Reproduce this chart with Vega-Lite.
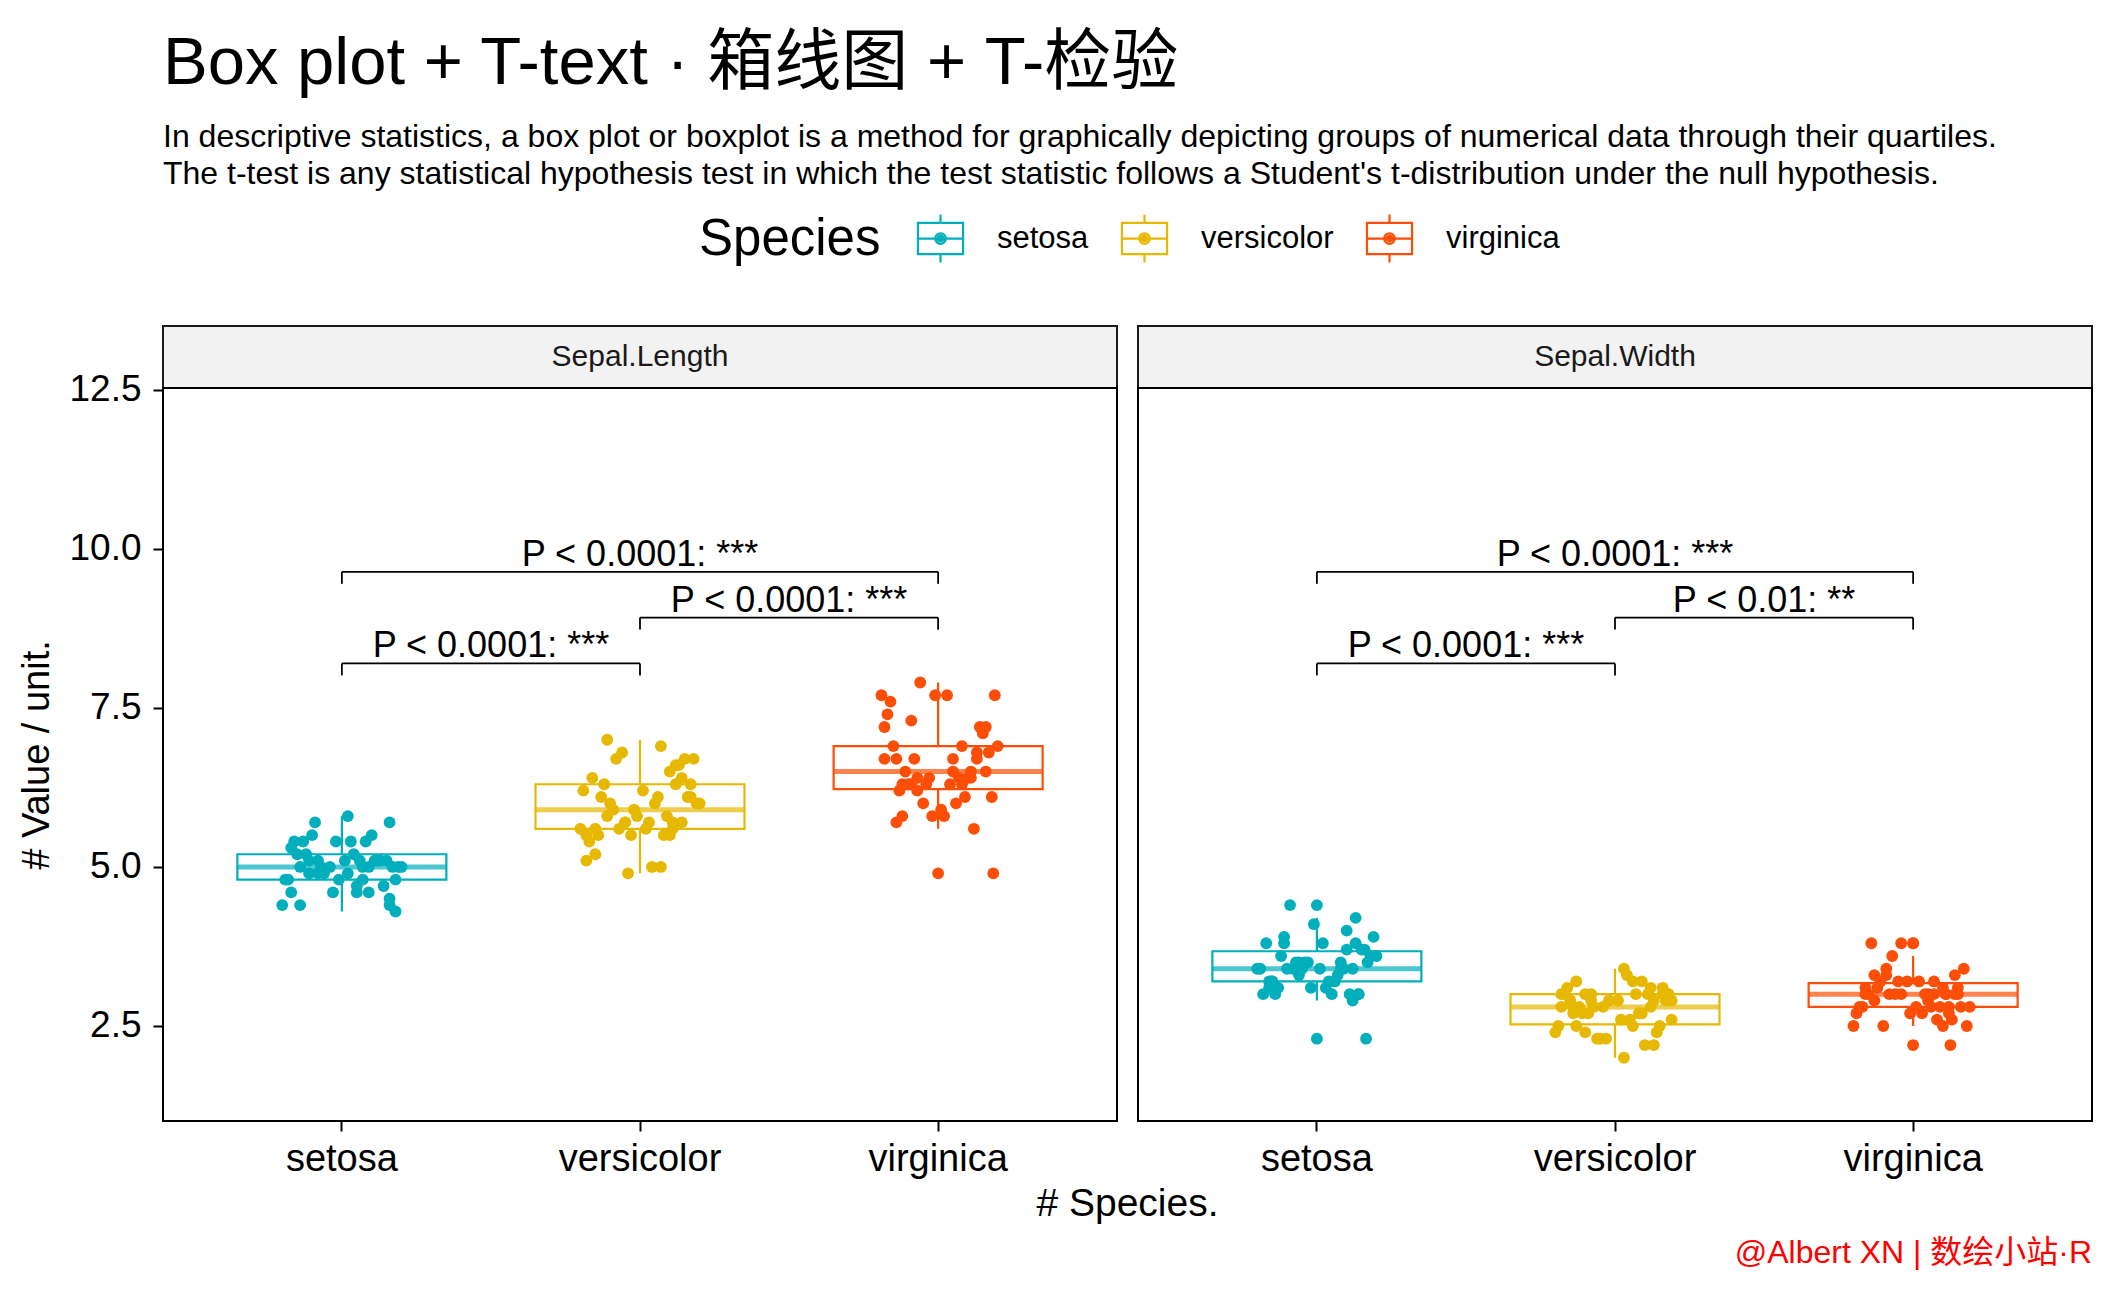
{
  "$schema": "https://vega.github.io/schema/vega-lite/v6.json",
  "background": "white",
  "padding": {"left": 17, "top": 30, "right": 23, "bottom": 20},
  "title": {
    "text": "Box plot + T-text · 箱线图 + T-检验",
    "subtitle": ["In descriptive statistics, a box plot or boxplot is a method for graphically depicting groups of numerical data through their quartiles.", "The t-test is any statistical hypothesis test in which the test statistic follows a Student's t-distribution under the null hypothesis."],
    "anchor": "start", "frame": "group",
    "font": "Liberation Sans, Noto Sans CJK SC", "fontSize": 67, "fontWeight": "normal", "color": "black",
    "subtitleFont": "Liberation Sans", "subtitleFontSize": 32, "subtitleColor": "black", "subtitleLineHeight": 37, "subtitlePadding": 24,
    "offset": 22
  },
  "datasets": {
    "iris": [
      {"species":"setosa","sl":5.1,"sw":3.5,"jl":0.13,"jw":-0.06},
      {"species":"setosa","sl":4.9,"sw":3.0,"jl":-0.08,"jw":0.14},
      {"species":"setosa","sl":4.7,"sw":3.2,"jl":0.05,"jw":-0.15},
      {"species":"setosa","sl":4.6,"sw":3.1,"jl":-0.17,"jw":0.03},
      {"species":"setosa","sl":5.0,"sw":3.6,"jl":0.19,"jw":0.18},
      {"species":"setosa","sl":5.4,"sw":3.9,"jl":-0.02,"jw":-0.11},
      {"species":"setosa","sl":4.6,"sw":3.4,"jl":0.09,"jw":0.08},
      {"species":"setosa","sl":5.0,"sw":3.4,"jl":-0.14,"jw":-0.19},
      {"species":"setosa","sl":4.4,"sw":2.9,"jl":0.16,"jw":0.12},
      {"species":"setosa","sl":4.9,"sw":3.1,"jl":-0.11,"jw":-0.02},
      {"species":"setosa","sl":5.4,"sw":3.7,"jl":0.03,"jw":0.16},
      {"species":"setosa","sl":4.8,"sw":3.4,"jl":-0.19,"jw":-0.08},
      {"species":"setosa","sl":4.8,"sw":3.0,"jl":0.07,"jw":0.05},
      {"species":"setosa","sl":4.3,"sw":3.0,"jl":0.18,"jw":-0.14},
      {"species":"setosa","sl":5.8,"sw":4.0,"jl":0.02,"jw":0.1},
      {"species":"setosa","sl":5.7,"sw":4.4,"jl":0.16,"jw":-0.09},
      {"species":"setosa","sl":5.4,"sw":3.9,"jl":-0.13,"jw":0.19},
      {"species":"setosa","sl":5.1,"sw":3.5,"jl":0.01,"jw":-0.04},
      {"species":"setosa","sl":5.7,"sw":3.8,"jl":-0.09,"jw":0.13},
      {"species":"setosa","sl":5.1,"sw":3.8,"jl":0.15,"jw":-0.17},
      {"species":"setosa","sl":5.4,"sw":3.4,"jl":-0.16,"jw":0.01},
      {"species":"setosa","sl":5.1,"sw":3.7,"jl":0.06,"jw":0.15},
      {"species":"setosa","sl":4.6,"sw":3.6,"jl":-0.03,"jw":-0.12},
      {"species":"setosa","sl":5.1,"sw":3.3,"jl":0.11,"jw":0.07},
      {"species":"setosa","sl":4.8,"sw":3.4,"jl":-0.18,"jw":-0.2},
      {"species":"setosa","sl":5.0,"sw":3.0,"jl":0.17,"jw":0.11},
      {"species":"setosa","sl":5.0,"sw":3.4,"jl":-0.07,"jw":-0.05},
      {"species":"setosa","sl":5.2,"sw":3.5,"jl":0.04,"jw":0.17},
      {"species":"setosa","sl":5.2,"sw":3.4,"jl":-0.12,"jw":-0.1},
      {"species":"setosa","sl":4.7,"sw":3.2,"jl":0.14,"jw":0.04},
      {"species":"setosa","sl":4.8,"sw":3.1,"jl":-0.01,"jw":-0.16},
      {"species":"setosa","sl":5.4,"sw":3.4,"jl":0.08,"jw":0.09},
      {"species":"setosa","sl":5.2,"sw":4.1,"jl":-0.15,"jw":-0.01},
      {"species":"setosa","sl":5.5,"sw":4.2,"jl":0.1,"jw":0.13},
      {"species":"setosa","sl":4.9,"sw":3.1,"jl":-0.06,"jw":-0.13},
      {"species":"setosa","sl":5.0,"sw":3.2,"jl":0.2,"jw":0.06},
      {"species":"setosa","sl":5.5,"sw":3.5,"jl":-0.1,"jw":-0.07},
      {"species":"setosa","sl":4.9,"sw":3.6,"jl":0.02,"jw":0.2},
      {"species":"setosa","sl":4.4,"sw":3.0,"jl":-0.2,"jw":-0.18},
      {"species":"setosa","sl":5.1,"sw":3.4,"jl":0.12,"jw":0.12},
      {"species":"setosa","sl":5.0,"sw":3.5,"jl":-0.04,"jw":-0.03},
      {"species":"setosa","sl":4.5,"sw":2.3,"jl":0.16,"jw":0.165},
      {"species":"setosa","sl":4.4,"sw":3.2,"jl":-0.14,"jw":-0.15},
      {"species":"setosa","sl":5.0,"sw":3.5,"jl":0.07,"jw":0.08},
      {"species":"setosa","sl":5.1,"sw":3.8,"jl":-0.11,"jw":-0.11},
      {"species":"setosa","sl":4.8,"sw":3.0,"jl":0.18,"jw":0.14},
      {"species":"setosa","sl":5.1,"sw":3.8,"jl":-0.08,"jw":0.02},
      {"species":"setosa","sl":4.6,"sw":3.2,"jl":0.05,"jw":-0.16},
      {"species":"setosa","sl":5.3,"sw":3.7,"jl":-0.17,"jw":0.1},
      {"species":"setosa","sl":5.0,"sw":3.3,"jl":0.09,"jw":-0.06},
      {"species":"versicolor","sl":7.0,"sw":3.2,"jl":-0.11,"jw":0.09},
      {"species":"versicolor","sl":6.4,"sw":3.2,"jl":0.14,"jw":-0.13},
      {"species":"versicolor","sl":6.9,"sw":3.1,"jl":0.07,"jw":0.16},
      {"species":"versicolor","sl":5.5,"sw":2.3,"jl":-0.18,"jw":-0.05},
      {"species":"versicolor","sl":6.5,"sw":2.8,"jl":0.1,"jw":0.12},
      {"species":"versicolor","sl":5.7,"sw":2.8,"jl":-0.05,"jw":-0.18},
      {"species":"versicolor","sl":6.3,"sw":3.3,"jl":0.17,"jw":0.04},
      {"species":"versicolor","sl":4.9,"sw":2.4,"jl":-0.04,"jw":-0.1},
      {"species":"versicolor","sl":6.6,"sw":2.9,"jl":0.12,"jw":0.19},
      {"species":"versicolor","sl":5.2,"sw":2.7,"jl":-0.15,"jw":-0.14},
      {"species":"versicolor","sl":5.0,"sw":2.0,"jl":0.04,"jw":0.03},
      {"species":"versicolor","sl":5.9,"sw":3.0,"jl":-0.09,"jw":-0.08},
      {"species":"versicolor","sl":6.0,"sw":2.2,"jl":0.19,"jw":0.13},
      {"species":"versicolor","sl":6.1,"sw":2.9,"jl":-0.13,"jw":-0.02},
      {"species":"versicolor","sl":5.6,"sw":2.9,"jl":0.02,"jw":0.17},
      {"species":"versicolor","sl":6.7,"sw":3.1,"jl":0.15,"jw":-0.16},
      {"species":"versicolor","sl":5.6,"sw":3.0,"jl":-0.07,"jw":0.07},
      {"species":"versicolor","sl":5.8,"sw":2.7,"jl":0.09,"jw":-0.11},
      {"species":"versicolor","sl":6.2,"sw":2.2,"jl":-0.19,"jw":0.1},
      {"species":"versicolor","sl":5.6,"sw":2.5,"jl":0.11,"jw":-0.19},
      {"species":"versicolor","sl":5.9,"sw":3.2,"jl":-0.02,"jw":0.06},
      {"species":"versicolor","sl":6.1,"sw":2.8,"jl":0.16,"jw":-0.04},
      {"species":"versicolor","sl":6.3,"sw":2.5,"jl":-0.12,"jw":0.15},
      {"species":"versicolor","sl":6.1,"sw":2.8,"jl":0.06,"jw":-0.12},
      {"species":"versicolor","sl":6.4,"sw":2.9,"jl":-0.16,"jw":0.01},
      {"species":"versicolor","sl":6.6,"sw":3.0,"jl":0.13,"jw":0.18},
      {"species":"versicolor","sl":6.8,"sw":2.8,"jl":-0.06,"jw":-0.07},
      {"species":"versicolor","sl":6.7,"sw":3.0,"jl":0.18,"jw":0.11},
      {"species":"versicolor","sl":6.0,"sw":2.9,"jl":-0.1,"jw":-0.15},
      {"species":"versicolor","sl":5.7,"sw":2.6,"jl":0.03,"jw":0.05},
      {"species":"versicolor","sl":5.5,"sw":2.4,"jl":-0.14,"jw":-0.2},
      {"species":"versicolor","sl":5.5,"sw":2.4,"jl":0.08,"jw":0.14},
      {"species":"versicolor","sl":5.8,"sw":2.7,"jl":-0.01,"jw":-0.09},
      {"species":"versicolor","sl":6.0,"sw":2.7,"jl":0.2,"jw":0.08},
      {"species":"versicolor","sl":5.4,"sw":3.0,"jl":-0.17,"jw":-0.17},
      {"species":"versicolor","sl":6.0,"sw":3.4,"jl":0.05,"jw":0.03},
      {"species":"versicolor","sl":6.7,"sw":3.1,"jl":-0.08,"jw":0.12},
      {"species":"versicolor","sl":6.3,"sw":2.3,"jl":0.12,"jw":-0.06},
      {"species":"versicolor","sl":5.6,"sw":3.0,"jl":-0.2,"jw":0.16},
      {"species":"versicolor","sl":5.5,"sw":2.5,"jl":0.1,"jw":-0.13},
      {"species":"versicolor","sl":5.5,"sw":2.6,"jl":-0.03,"jw":0.02},
      {"species":"versicolor","sl":6.1,"sw":3.0,"jl":0.17,"jw":-0.1},
      {"species":"versicolor","sl":5.8,"sw":2.6,"jl":-0.11,"jw":0.19},
      {"species":"versicolor","sl":5.0,"sw":2.3,"jl":0.07,"jw":-0.03},
      {"species":"versicolor","sl":5.6,"sw":2.7,"jl":-0.15,"jw":0.09},
      {"species":"versicolor","sl":5.7,"sw":3.0,"jl":0.14,"jw":-0.18},
      {"species":"versicolor","sl":5.7,"sw":2.9,"jl":-0.05,"jw":0.13},
      {"species":"versicolor","sl":6.2,"sw":2.9,"jl":0.01,"jw":-0.08},
      {"species":"versicolor","sl":5.1,"sw":2.5,"jl":-0.18,"jw":0.06},
      {"species":"versicolor","sl":5.7,"sw":2.8,"jl":0.11,"jw":-0.14},
      {"species":"virginica","sl":6.3,"sw":3.3,"jl":0.08,"jw":-0.09},
      {"species":"virginica","sl":5.8,"sw":2.7,"jl":-0.12,"jw":0.12},
      {"species":"virginica","sl":7.1,"sw":3.0,"jl":0.15,"jw":-0.16},
      {"species":"virginica","sl":6.3,"sw":2.9,"jl":-0.04,"jw":0.05},
      {"species":"virginica","sl":6.5,"sw":3.0,"jl":0.11,"jw":0.15},
      {"species":"virginica","sl":7.6,"sw":3.0,"jl":-0.16,"jw":-0.04},
      {"species":"virginica","sl":4.9,"sw":2.5,"jl":0.185,"jw":0.1},
      {"species":"virginica","sl":7.3,"sw":2.9,"jl":-0.09,"jw":-0.13},
      {"species":"virginica","sl":6.7,"sw":2.5,"jl":0.13,"jw":0.18},
      {"species":"virginica","sl":7.2,"sw":3.6,"jl":-0.18,"jw":-0.07},
      {"species":"virginica","sl":6.5,"sw":3.2,"jl":0.05,"jw":0.02},
      {"species":"virginica","sl":6.4,"sw":2.7,"jl":-0.07,"jw":-0.19},
      {"species":"virginica","sl":6.8,"sw":3.0,"jl":0.17,"jw":0.11},
      {"species":"virginica","sl":5.7,"sw":2.5,"jl":-0.14,"jw":-0.1},
      {"species":"virginica","sl":5.8,"sw":2.8,"jl":0.02,"jw":0.16},
      {"species":"virginica","sl":6.4,"sw":3.2,"jl":0.1,"jw":-0.02},
      {"species":"virginica","sl":6.5,"sw":3.0,"jl":-0.11,"jw":0.07},
      {"species":"virginica","sl":7.7,"sw":3.8,"jl":0.19,"jw":-0.14},
      {"species":"virginica","sl":7.7,"sw":2.6,"jl":-0.01,"jw":0.13},
      {"species":"virginica","sl":6.0,"sw":2.2,"jl":0.06,"jw":0.125},
      {"species":"virginica","sl":6.9,"sw":3.2,"jl":-0.15,"jw":-0.05},
      {"species":"virginica","sl":5.6,"sw":2.8,"jl":0.12,"jw":0.09},
      {"species":"virginica","sl":7.7,"sw":2.8,"jl":-0.19,"jw":-0.17},
      {"species":"virginica","sl":6.3,"sw":2.7,"jl":0.04,"jw":0.03},
      {"species":"virginica","sl":6.7,"sw":3.3,"jl":-0.08,"jw":0.14},
      {"species":"virginica","sl":7.2,"sw":3.2,"jl":0.16,"jw":-0.11},
      {"species":"virginica","sl":6.2,"sw":2.8,"jl":-0.13,"jw":0.06},
      {"species":"virginica","sl":6.1,"sw":3.0,"jl":0.09,"jw":-0.08},
      {"species":"virginica","sl":6.4,"sw":2.8,"jl":-0.03,"jw":0.19},
      {"species":"virginica","sl":7.2,"sw":3.0,"jl":0.14,"jw":-0.15},
      {"species":"virginica","sl":7.4,"sw":2.8,"jl":-0.17,"jw":0.01},
      {"species":"virginica","sl":7.9,"sw":3.8,"jl":-0.06,"jw":-0.04},
      {"species":"virginica","sl":6.4,"sw":2.8,"jl":0.07,"jw":0.12},
      {"species":"virginica","sl":6.3,"sw":2.8,"jl":-0.1,"jw":-0.18},
      {"species":"virginica","sl":6.1,"sw":2.6,"jl":0.18,"jw":0.08},
      {"species":"virginica","sl":7.7,"sw":3.0,"jl":0.03,"jw":-0.06},
      {"species":"virginica","sl":6.3,"sw":3.4,"jl":-0.12,"jw":0.17},
      {"species":"virginica","sl":6.4,"sw":3.1,"jl":0.11,"jw":-0.12},
      {"species":"virginica","sl":6.0,"sw":3.0,"jl":-0.05,"jw":0.04},
      {"species":"virginica","sl":6.9,"sw":3.1,"jl":0.2,"jw":0.1},
      {"species":"virginica","sl":6.7,"sw":3.1,"jl":-0.14,"jw":-0.16},
      {"species":"virginica","sl":6.9,"sw":3.1,"jl":0.08,"jw":0.15},
      {"species":"virginica","sl":5.8,"sw":2.7,"jl":-0.02,"jw":-0.01},
      {"species":"virginica","sl":6.8,"sw":3.2,"jl":0.13,"jw":0.07},
      {"species":"virginica","sl":6.7,"sw":3.3,"jl":-0.18,"jw":-0.13},
      {"species":"virginica","sl":6.7,"sw":3.0,"jl":0.05,"jw":0.11},
      {"species":"virginica","sl":6.3,"sw":2.5,"jl":-0.09,"jw":-0.2},
      {"species":"virginica","sl":6.5,"sw":3.0,"jl":0.16,"jw":0.05},
      {"species":"virginica","sl":6.2,"sw":3.4,"jl":-0.07,"jw":-0.09},
      {"species":"virginica","sl":5.9,"sw":3.0,"jl":0.01,"jw":0.14}
    ],
    "brackets": [
      {"panel":"Sepal.Length","g1":"setosa","g2":"versicolor","by":8.2,"label":"P < 0.0001: ***"},
      {"panel":"Sepal.Length","g1":"versicolor","g2":"virginica","by":8.92,"label":"P < 0.0001: ***"},
      {"panel":"Sepal.Length","g1":"setosa","g2":"virginica","by":9.64,"label":"P < 0.0001: ***"},
      {"panel":"Sepal.Width","g1":"setosa","g2":"versicolor","by":8.2,"label":"P < 0.0001: ***"},
      {"panel":"Sepal.Width","g1":"versicolor","g2":"virginica","by":8.92,"label":"P < 0.01: **"},
      {"panel":"Sepal.Width","g1":"setosa","g2":"virginica","by":9.64,"label":"P < 0.0001: ***"}
    ]
  },
  "columns": 2,
  "bounds": "flush",
  "spacing": {"row": 0, "column": 21},
  "resolve": {"scale": {"x": "independent", "y": "independent", "fill": "shared", "stroke": "shared"}},
  "concat": [
    {
      "width": 954, "height": 62,
      "view": {"fill": "#F2F2F2", "stroke": "#1A1A1A", "strokeWidth": 2},
      "data": {"values": [{"panel": "Sepal.Length"}]},
      "mark": {"type": "text", "fontSize": 30, "font": "Liberation Sans", "color": "#1A1A1A"},
      "encoding": {
        "x": {"field": "panel", "type": "nominal", "axis": null},
        "y": {"field": "panel", "type": "nominal", "axis": null},
        "text": {"field": "panel"}
      }
    },
    {
      "width": 954, "height": 62,
      "view": {"fill": "#F2F2F2", "stroke": "#1A1A1A", "strokeWidth": 2},
      "data": {"values": [{"panel": "Sepal.Width"}]},
      "mark": {"type": "text", "fontSize": 30, "font": "Liberation Sans", "color": "#1A1A1A"},
      "encoding": {
        "x": {"field": "panel", "type": "nominal", "axis": null},
        "y": {"field": "panel", "type": "nominal", "axis": null},
        "text": {"field": "panel"}
      }
    },
    {
      "width": 954, "height": 733,
      "layer": [
        {
          "data": {"name": "iris"},
          "transform": [
            {"joinaggregate": [{"op": "q1", "field": "sl", "as": "lq"}, {"op": "q3", "field": "sl", "as": "uq"}, {"op": "median", "field": "sl", "as": "md"}], "groupby": ["species"]},
            {"filter": "datum.sl >= datum.lq - 1.5 * (datum.uq - datum.lq) && datum.sl <= datum.uq + 1.5 * (datum.uq - datum.lq)"},
            {"aggregate": [{"op": "min", "field": "sl", "as": "lw"}, {"op": "max", "field": "sl", "as": "uw"}, {"op": "min", "field": "lq", "as": "q1"}, {"op": "min", "field": "uq", "as": "q3"}, {"op": "min", "field": "md", "as": "med"}], "groupby": ["species"]}
          ],
          "layer": [
            {
              "mark": {"type": "rule", "strokeWidth": 2.2},
              "encoding": {
                "x": {"field": "species", "type": "nominal",
                  "scale": {"domain": ["setosa","versicolor","virginica"], "paddingInner": 0, "paddingOuter": 0.1},
                  "axis": {"title": "# Species.", "titleX": 964, "titleAlign": "center", "titleFontSize": 39, "titlePadding": 6, "labelFontSize": 38, "labelPadding": 9, "labelAngle": 0}},
                "y": {"field": "lw", "type": "quantitative",
                  "scale": {"domain": [1.006, 12.53], "nice": false, "zero": false},
                  "axis": {"title": "# Value / unit.", "values": [2.5, 5, 7.5, 10, 12.5], "format": ".1f", "labelFontSize": 37, "labelPadding": 12, "titleFontSize": 38, "titlePadding": 12}},
                "y2": {"field": "q1"},
                "stroke": {"field": "species", "type": "nominal",
                  "scale": {"domain": ["setosa","versicolor","virginica"], "range": ["#00AFBB","#E7B800","#FC4E07"]},
                  "legend": {"title": "Species", "orient": "none", "legendX": 536, "legendY": -113, "direction": "horizontal", "titleOrient": "left", "titleLimit": 400,
                    "symbolType": "M-0.94,-0.65H0.94V0.65H-0.94ZM-0.94,0H0.94M0,-0.65V-1M0,0.65V1M0.22,0A0.22,0.22 0 1,1 -0.22,0A0.22,0.22 0 1,1 0.22,0M0.12,0A0.12,0.12 0 1,1 -0.12,0A0.12,0.12 0 1,1 0.12,0M0.04,0A0.04,0.04 0 1,1 -0.04,0A0.04,0.04 0 1,1 0.04,0",
                    "symbolSize": 2304, "symbolStrokeWidth": 2.2, "symbolOpacity": 1, "symbolFillColor": "transparent", "labelFontSize": 31, "titleFontSize": 51, "titleFontWeight": "normal",
                    "labelOffset": 31, "columnPadding": 28, "titlePadding": 34, "padding": 0, "titleBaseline": "middle", "titleAnchor": "middle",
                    "labelColor": "black", "titleColor": "black", "labelFont": "Liberation Sans", "titleFont": "Liberation Sans",
                    "encode": {"symbols": {"update": {"fill": {"value": "transparent"}, "strokeWidth": {"value": 2.2}}}}}}
              }
            },
            {
              "mark": {"type": "rule", "strokeWidth": 2.2},
              "encoding": {
                "x": {"field": "species", "type": "nominal"},
                "y": {"field": "q3", "type": "quantitative"},
                "y2": {"field": "uw"},
                "stroke": {"field": "species", "type": "nominal"}
              }
            },
            {
              "mark": {"type": "bar", "filled": false, "fill": "transparent", "strokeWidth": 2.2, "size": 209},
              "encoding": {
                "x": {"field": "species", "type": "nominal"},
                "y": {"field": "q1", "type": "quantitative"},
                "y2": {"field": "q3"},
                "stroke": {"field": "species", "type": "nominal"}
              }
            },
            {
              "mark": {"type": "tick", "thickness": 5, "size": 209},
              "encoding": {
                "x": {"field": "species", "type": "nominal"},
                "y": {"field": "med", "type": "quantitative"},
                "fill": {"field": "species", "type": "nominal",
                  "scale": {"domain": ["virginica","versicolor","setosa"], "range": ["#FC4E07","#E7B800","#00AFBB"]},
                  "legend": null}
              }
            }
          ]
        },
        {
          "data": {"name": "iris"},
          "transform": [
            {"joinaggregate": [{"op": "q1", "field": "sl", "as": "lq"}, {"op": "q3", "field": "sl", "as": "uq"}], "groupby": ["species"]},
            {"filter": "datum.sl < datum.lq - 1.5 * (datum.uq - datum.lq) || datum.sl > datum.uq + 1.5 * (datum.uq - datum.lq)"}
          ],
          "mark": {"type": "circle", "size": 140, "opacity": 1},
          "encoding": {
            "x": {"field": "species", "type": "nominal"},
            "y": {"field": "sl", "type": "quantitative"},
            "fill": {"field": "species", "type": "nominal", "legend": null}
          }
        },
        {
          "data": {"name": "iris"},
          "mark": {"type": "circle", "size": 140, "opacity": 1},
          "encoding": {
            "x": {"field": "species", "type": "nominal"},
            "xOffset": {"field": "jl", "type": "quantitative", "scale": {"domain": [-0.5, 0.5]}},
            "y": {"field": "sl", "type": "quantitative"},
            "fill": {"field": "species", "type": "nominal", "legend": null}
          }
        },
        {
          "data": {"name": "brackets"},
          "transform": [{"filter": "datum.panel === 'Sepal.Length'"}],
          "mark": {"type": "rule", "color": "black", "strokeWidth": 1.8},
          "encoding": {
            "x": {"field": "g1", "type": "nominal"},
            "x2": {"field": "g2"},
            "y": {"field": "by", "type": "quantitative"}
          }
        },
        {
          "data": {"name": "brackets"},
          "transform": [{"filter": "datum.panel === 'Sepal.Length'"}],
          "mark": {"type": "rule", "color": "black", "strokeWidth": 1.8, "y2Offset": 12},
          "encoding": {
            "x": {"field": "g1", "type": "nominal"},
            "y": {"field": "by", "type": "quantitative"},
            "y2": {"field": "by"}
          }
        },
        {
          "data": {"name": "brackets"},
          "transform": [{"filter": "datum.panel === 'Sepal.Length'"}],
          "mark": {"type": "rule", "color": "black", "strokeWidth": 1.8, "y2Offset": 12},
          "encoding": {
            "x": {"field": "g2", "type": "nominal"},
            "y": {"field": "by", "type": "quantitative"},
            "y2": {"field": "by"}
          }
        },
        {
          "data": {"name": "brackets"},
          "transform": [
            {"filter": "datum.panel === 'Sepal.Length'"},
            {"calculate": "(indexof(['setosa','versicolor','virginica'], datum.g2) - indexof(['setosa','versicolor','virginica'], datum.g1)) / 2", "as": "mid"}
          ],
          "mark": {"type": "text", "fontSize": 36, "font": "Liberation Sans", "color": "black", "baseline": "alphabetic", "dy": -6},
          "encoding": {
            "x": {"field": "g1", "type": "nominal"},
            "xOffset": {"field": "mid", "type": "quantitative"},
            "y": {"field": "by", "type": "quantitative"},
            "text": {"field": "label"}
          }
        }
      ]
    },
    {
      "width": 954, "height": 733,
      "title": {"text": "@Albert XN | 数绘小站·R", "orient": "bottom", "anchor": "end", "frame": "group", "fontSize": 32, "fontWeight": "normal", "color": "#FF0000", "font": "Liberation Sans, Noto Sans CJK SC", "offset": 60},
      "layer": [
        {
          "data": {"name": "iris"},
          "transform": [
            {"joinaggregate": [{"op": "q1", "field": "sw", "as": "lq"}, {"op": "q3", "field": "sw", "as": "uq"}, {"op": "median", "field": "sw", "as": "md"}], "groupby": ["species"]},
            {"filter": "datum.sw >= datum.lq - 1.5 * (datum.uq - datum.lq) && datum.sw <= datum.uq + 1.5 * (datum.uq - datum.lq)"},
            {"aggregate": [{"op": "min", "field": "sw", "as": "lw"}, {"op": "max", "field": "sw", "as": "uw"}, {"op": "min", "field": "lq", "as": "q1"}, {"op": "min", "field": "uq", "as": "q3"}, {"op": "min", "field": "md", "as": "med"}], "groupby": ["species"]}
          ],
          "layer": [
            {
              "mark": {"type": "rule", "strokeWidth": 2.2},
              "encoding": {
                "x": {"field": "species", "type": "nominal",
                  "scale": {"domain": ["setosa","versicolor","virginica"], "paddingInner": 0, "paddingOuter": 0.1},
                  "axis": {"title": null, "labelFontSize": 38, "labelPadding": 9, "labelAngle": 0}},
                "y": {"field": "lw", "type": "quantitative",
                  "scale": {"domain": [1.006, 12.53], "nice": false, "zero": false},
                  "axis": null},
                "y2": {"field": "q1"},
                "stroke": {"field": "species", "type": "nominal",
                  "legend": {"title": "Species", "orient": "none", "legendX": 536, "legendY": -113, "direction": "horizontal", "titleOrient": "left", "titleLimit": 400,
                    "symbolType": "M-0.94,-0.65H0.94V0.65H-0.94ZM-0.94,0H0.94M0,-0.65V-1M0,0.65V1M0.22,0A0.22,0.22 0 1,1 -0.22,0A0.22,0.22 0 1,1 0.22,0M0.12,0A0.12,0.12 0 1,1 -0.12,0A0.12,0.12 0 1,1 0.12,0M0.04,0A0.04,0.04 0 1,1 -0.04,0A0.04,0.04 0 1,1 0.04,0",
                    "symbolSize": 2304, "symbolStrokeWidth": 2.2, "symbolOpacity": 1, "symbolFillColor": "transparent", "labelFontSize": 31, "titleFontSize": 51, "titleFontWeight": "normal",
                    "labelOffset": 31, "columnPadding": 28, "titlePadding": 34, "padding": 0, "titleBaseline": "middle", "titleAnchor": "middle",
                    "labelColor": "black", "titleColor": "black", "labelFont": "Liberation Sans", "titleFont": "Liberation Sans",
                    "encode": {"symbols": {"update": {"fill": {"value": "transparent"}, "strokeWidth": {"value": 2.2}}}}}}
              }
            },
            {
              "mark": {"type": "rule", "strokeWidth": 2.2},
              "encoding": {
                "x": {"field": "species", "type": "nominal"},
                "y": {"field": "q3", "type": "quantitative"},
                "y2": {"field": "uw"},
                "stroke": {"field": "species", "type": "nominal"}
              }
            },
            {
              "mark": {"type": "bar", "filled": false, "fill": "transparent", "strokeWidth": 2.2, "size": 209},
              "encoding": {
                "x": {"field": "species", "type": "nominal"},
                "y": {"field": "q1", "type": "quantitative"},
                "y2": {"field": "q3"},
                "stroke": {"field": "species", "type": "nominal"}
              }
            },
            {
              "mark": {"type": "tick", "thickness": 5, "size": 209},
              "encoding": {
                "x": {"field": "species", "type": "nominal"},
                "y": {"field": "med", "type": "quantitative"},
                "fill": {"field": "species", "type": "nominal", "legend": null}
              }
            }
          ]
        },
        {
          "data": {"name": "iris"},
          "transform": [
            {"joinaggregate": [{"op": "q1", "field": "sw", "as": "lq"}, {"op": "q3", "field": "sw", "as": "uq"}], "groupby": ["species"]},
            {"filter": "datum.sw < datum.lq - 1.5 * (datum.uq - datum.lq) || datum.sw > datum.uq + 1.5 * (datum.uq - datum.lq)"}
          ],
          "mark": {"type": "circle", "size": 140, "opacity": 1},
          "encoding": {
            "x": {"field": "species", "type": "nominal"},
            "y": {"field": "sw", "type": "quantitative"},
            "fill": {"field": "species", "type": "nominal", "legend": null}
          }
        },
        {
          "data": {"name": "iris"},
          "mark": {"type": "circle", "size": 140, "opacity": 1},
          "encoding": {
            "x": {"field": "species", "type": "nominal"},
            "xOffset": {"field": "jw", "type": "quantitative", "scale": {"domain": [-0.5, 0.5]}},
            "y": {"field": "sw", "type": "quantitative"},
            "fill": {"field": "species", "type": "nominal", "legend": null}
          }
        },
        {
          "data": {"name": "brackets"},
          "transform": [{"filter": "datum.panel === 'Sepal.Width'"}],
          "mark": {"type": "rule", "color": "black", "strokeWidth": 1.8},
          "encoding": {
            "x": {"field": "g1", "type": "nominal"},
            "x2": {"field": "g2"},
            "y": {"field": "by", "type": "quantitative"}
          }
        },
        {
          "data": {"name": "brackets"},
          "transform": [{"filter": "datum.panel === 'Sepal.Width'"}],
          "mark": {"type": "rule", "color": "black", "strokeWidth": 1.8, "y2Offset": 12},
          "encoding": {
            "x": {"field": "g1", "type": "nominal"},
            "y": {"field": "by", "type": "quantitative"},
            "y2": {"field": "by"}
          }
        },
        {
          "data": {"name": "brackets"},
          "transform": [{"filter": "datum.panel === 'Sepal.Width'"}],
          "mark": {"type": "rule", "color": "black", "strokeWidth": 1.8, "y2Offset": 12},
          "encoding": {
            "x": {"field": "g2", "type": "nominal"},
            "y": {"field": "by", "type": "quantitative"},
            "y2": {"field": "by"}
          }
        },
        {
          "data": {"name": "brackets"},
          "transform": [
            {"filter": "datum.panel === 'Sepal.Width'"},
            {"calculate": "(indexof(['setosa','versicolor','virginica'], datum.g2) - indexof(['setosa','versicolor','virginica'], datum.g1)) / 2", "as": "mid"}
          ],
          "mark": {"type": "text", "fontSize": 36, "font": "Liberation Sans", "color": "black", "baseline": "alphabetic", "dy": -6},
          "encoding": {
            "x": {"field": "g1", "type": "nominal"},
            "xOffset": {"field": "mid", "type": "quantitative"},
            "y": {"field": "by", "type": "quantitative"},
            "text": {"field": "label"}
          }
        }
      ]
    }
  ],
  "config": {
    "font": "Liberation Sans",
    "view": {"stroke": "black", "strokeWidth": 2},
    "axis": {"grid": false, "domain": false, "tickColor": "black", "tickWidth": 2, "tickSize": 10, "labelColor": "black", "titleColor": "black", "labelFont": "Liberation Sans", "titleFont": "Liberation Sans", "titleFontWeight": "normal"}
  }
}
